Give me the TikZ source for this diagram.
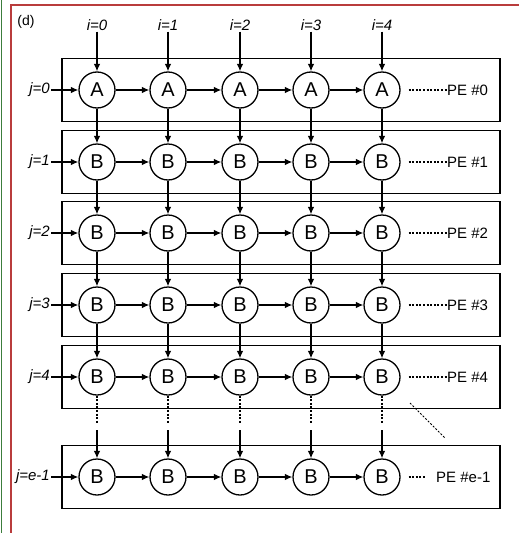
\documentclass[tikz,border=0pt]{standalone}
\usepackage{fontspec}
\setmainfont{Liberation Sans}
\usetikzlibrary{arrows.meta}
\definecolor{frgreen}{RGB}{60,125,60}
\definecolor{frred}{RGB}{185,60,60}
\begin{document}
\begin{tikzpicture}[x=1pt,y=-1pt,
  pe/.style={circle, draw, line width=1.3pt, minimum size=36pt, inner sep=0pt, fill=white,
    font=\fontsize{20}{20}\selectfont},
  pebox/.style={draw, line width=1.3pt, minimum width=438pt, minimum height=63pt, inner sep=0pt},
  arr/.style={-{Latex[length=7.5pt,width=6.5pt]}, line width=1.2pt},
  dotl/.style={line width=1.1pt, dash pattern=on 2pt off 1.6pt},
  ilab/.style={font=\fontsize{15}{15}\selectfont\itshape, inner sep=1pt},
  pelab/.style={font=\fontsize{15}{15}\selectfont, inner sep=0pt, anchor=west},
  sublab/.style={font=\fontsize{14}{14}\selectfont, inner sep=0pt}
]
\useasboundingbox (0,0) rectangle (519,533);
% outer frames
\draw[frgreen, line width=1.5pt] (1.5,0) -- (1.5,533);
\draw[frred, line width=1.5pt] (11,533) -- (11,5) -- (519,5);
\node[sublab] (sub) at (26,22) {(d)};
% boxes and nodes
\foreach \r/\y in {0/90,1/162,2/233,3/305,4/377,5/477} {
  \node[pebox] (box\r) at (281,\y) {};
  \foreach \x [count=\c from 0] in {97,168,240,311,382} {
    \node[pe] (n\r-\c) at (\x,\y) {\ifnum\r=0 A\else B\fi};
  }
}
% top labels
\foreach \x [count=\c from 0] in {97,168,240,311,382} {
  \node[ilab] (i\c) at (\x,25) {i=\c};
  \draw[arr] (i\c.south) -- (n0-\c.north);
}
% left labels
\foreach \r/\y/\t in {0/90/0,1/162/1,2/233/2,3/305/3,4/377/4,5/477/e-1} {
  \node[ilab, anchor=east] (j\r) at (51,\y) {j=\t};
  \draw[arr] (j\r.east) -- (n\r-0.west);
}
% horizontal arrows
\foreach \r in {0,...,5} {
  \foreach \c [evaluate=\c as \d using int(\c+1)] in {0,...,3} {
    \draw[arr] (n\r-\c) -- (n\r-\d);
  }
}
% vertical arrows
\foreach \r [evaluate=\r as \s using int(\r+1)] in {0,...,3} {
  \foreach \c in {0,...,4} {
    \draw[arr] (n\r-\c) -- (n\s-\c);
  }
}
\foreach \x [count=\c from 0] in {97,168,240,311,382} {
  \coordinate (ma\c) at (\x,424);
  \coordinate (mb\c) at (\x,430);
  \draw[dotl] (n4-\c) -- (ma\c);
  \draw[arr] (mb\c) -- (n5-\c);
}
% PE labels
\foreach \r/\y in {0/90,1/162,2/233,3/305,4/377} {
  \node[pelab] (pe\r) at (447,\y) {PE \#\r};
  \draw[dotl] ([xshift=8pt]n\r-4.east) -- (pe\r.west);
}
\node[pelab] (pe5) at (436,477) {PE \#e-1};
\draw[dotl] ([xshift=8pt]n5-4.east) -- ([xshift=-10pt]pe5.west);
% diagonal continuation
\coordinate (da) at (410,403);
\coordinate (db) at (445,438);
\draw[dotl, line width=0.9pt] (da) -- (db);
\end{tikzpicture}
\end{document}
